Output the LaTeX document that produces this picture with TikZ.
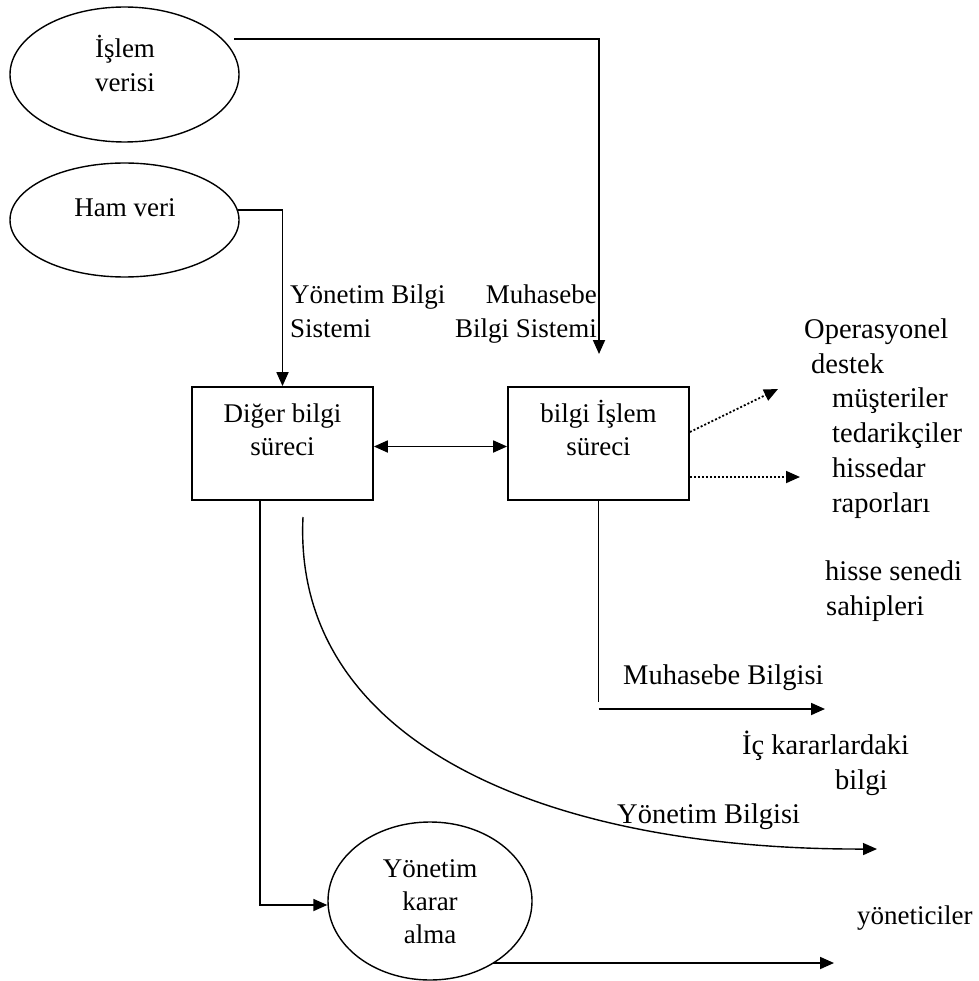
\documentclass[tikz,border=0pt]{standalone}
\usepackage{fontspec}
\setmainfont{Liberation Serif}
\usetikzlibrary{arrows.meta,shapes.geometric}
\begin{document}
\begin{tikzpicture}[x=1pt,y=-1pt,
  line/.style={line width=1.8pt},
  tip/.tip={Triangle[length=14pt,width=12pt]},
  arr/.style={line, -tip},
  oval/.style={ellipse, draw, line width=1.4pt, inner sep=0pt},
  boxn/.style={draw, line width=1.8pt, minimum width=181pt, minimum height=113pt, inner sep=0pt},
  t/.style={inner sep=0pt, anchor=base, font=\fontsize{27}{34}\selectfont},
  tw/.style={inner sep=0pt, anchor=base west, font=\fontsize{27}{34}\selectfont},
  te/.style={inner sep=0pt, anchor=base east, font=\fontsize{27}{34}\selectfont},
  tl/.style={inner sep=0pt, anchor=base west, font=\fontsize{28.5}{35}\selectfont},
]
\useasboundingbox (0,0) rectangle (978,981);

% shapes
\node[oval, minimum width=229pt, minimum height=135pt] (e1) at (124.5,74.5) {};
\node[oval, minimum width=229pt, minimum height=114pt] (e2) at (124.5,220) {};
\node[oval, minimum width=204pt, minimum height=158pt] (e3) at (430,901) {};
\node[boxn] (b1) at (282.5,443.5) {};
\node[boxn] (b2) at (598.5,443.5) {};

% texts in shapes
\node[t] (e1a) at (125,58) {İşlem};
\node[t] (e1b) at (125,92) {verisi};
\node[t] (e2a) at (125,217) {Ham veri};
\node[t] (b1a) at (282.5,422) {Diğer bilgi};
\node[t] (b1b) at (282.5,455) {süreci};
\node[t] (b2a) at (598.5,422) {bilgi İşlem};
\node[t] (b2b) at (598.5,455) {süreci};
\node[t] (e3a) at (430,877) {Yönetim};
\node[t] (e3b) at (430,910) {karar};
\node[t] (e3c) at (430,943) {alma};

% labels
\node[tw] (l1a) at (290,303) {Yönetim Bilgi};
\node[tw] (l1b) at (290,337) {Sistemi};
\node[te] (l2a) at (597,303) {Muhasebe};
\node[te] (l2b) at (597,337) {Bilgi Sistemi};

\node[tl] (r1) at (804,338) {Operasyonel};
\node[tl] (r2) at (811,373) {destek};
\node[tl] (r3) at (832,407) {müşteriler};
\node[tl] (r4) at (832,442) {tedarikçiler};
\node[tl] (r5) at (832,477) {hissedar};
\node[tl] (r6) at (832,512) {raporları};
\node[tl] (r7) at (825,580) {hisse senedi};
\node[tl] (r8) at (826,615) {sahipleri};

\node[tl] (m1) at (623,684) {Muhasebe Bilgisi};
\node[tl] (m2) at (742,754) {İç kararlardaki};
\node[tl] (m3) at (835,789) {bilgi};
\node[tl] (m4) at (617,823) {Yönetim Bilgisi};
\node[tw] (m5) at (857,924) {yöneticiler};

% coordinates
\coordinate (c1) at (234,39);
\coordinate (c1t) at (599,354);
\coordinate (c2) at (238,210);
\coordinate (d1) at (778,389);
\coordinate (d2) at (800,477);
\coordinate (v2) at (598.5,702);
\coordinate (h2s) at (598.5,709);
\coordinate (h2e) at (825,709);
\coordinate (v1) at (260,905);
\coordinate (cs) at (303,517);
\coordinate (ce) at (877,849);
\coordinate (bs) at (493,963);
\coordinate (be) at (834,963);

% connectors
\draw[arr] (c1) -| (c1t);
\draw[arr] (c2) -| (b1.north);
\draw[line, tip-tip] ([yshift=-3pt]b1.east) -- ([yshift=-3pt]b2.west);
\draw[arr, dash pattern=on 2pt off 2pt] ([yshift=11.5pt]b2.east) -- (d1);
\draw[arr, dash pattern=on 2pt off 2pt] ([yshift=-33.5pt]b2.east) -- (d2);
\draw[line] (b2.south) -- (v2);
\draw[arr] (h2s) -- (h2e);
\draw[arr] (b1.south -| v1) -- (v1) -- (v1 -| e3.west);
\draw[line width=1.4pt, -tip] (cs) .. controls (292,740) and (540,850) .. (ce);
\draw[arr] (bs) -- (be);
\end{tikzpicture}
\end{document}
